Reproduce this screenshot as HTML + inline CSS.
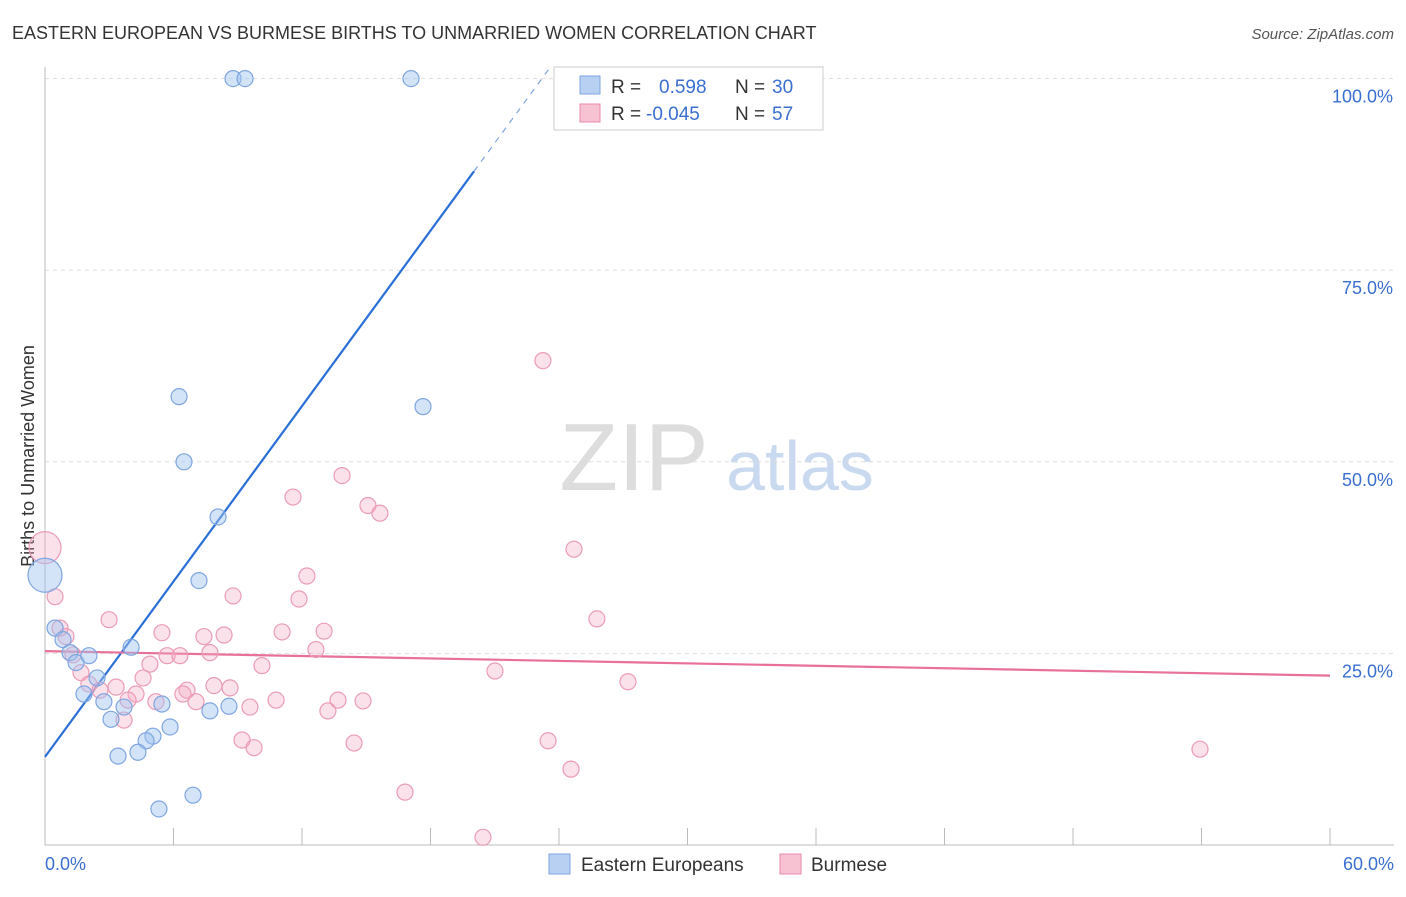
<!DOCTYPE html>
<html><head><meta charset="utf-8"><style>
body{margin:0;background:#fff;font-family:"Liberation Sans",sans-serif}
svg text{font-family:"Liberation Sans",sans-serif}
</style></head><body>
<svg id="chart" width="1406" height="892" xmlns="http://www.w3.org/2000/svg">
<text x="12" y="39" font-size="18" fill="#333">EASTERN EUROPEAN VS BURMESE BIRTHS TO UNMARRIED WOMEN CORRELATION CHART</text>
<text x="1394" y="39" font-size="15" fill="#555" font-style="italic" text-anchor="end">Source: ZipAtlas.com</text>
<text transform="translate(34,456) rotate(-90)" font-size="18" fill="#333" text-anchor="middle">Births to Unmarried Women</text>
<g><text x="634" y="490" font-size="96" fill="#ddd" font-family="Liberation Serif" text-anchor="middle">ZIP</text><text x="800" y="490" font-size="70" fill="#c9d9ef" text-anchor="middle">atlas</text></g>
<g id="grid"></g><g id="axes"></g><g id="trend"></g><g id="pts"></g>
<g>
<rect x="554" y="67" width="269" height="63" fill="#fff" stroke="#ccc"/>
<rect x="580" y="76" width="20" height="18" fill="#b8d0f2" stroke="#7fa6e0"/>
<rect x="580" y="104" width="20" height="18" fill="#f7c3d3" stroke="#e98aa8"/>
<text x="611" y="93" font-size="19" fill="#333">R = </text><text x="659" y="93" font-size="19" fill="#3a6fd0">0.598</text>
<text x="735" y="93" font-size="19" fill="#333">N = </text><text x="772" y="93" font-size="19" fill="#3a6fd0">30</text>
<text x="611" y="120" font-size="19" fill="#333">R = </text><text x="646" y="120" font-size="19" fill="#3a6fd0">-0.045</text>
<text x="735" y="120" font-size="19" fill="#333">N = </text><text x="772" y="120" font-size="19" fill="#3a6fd0">57</text>
</g>
<g>
<rect x="549" y="854" width="21" height="20" fill="#b8d0f2" stroke="#7fa6e0"/>
<text x="581" y="871" font-size="19" fill="#333">Eastern Europeans</text>
<rect x="780" y="854" width="21" height="20" fill="#f7c3d3" stroke="#e98aa8"/>
<text x="811" y="871" font-size="19" fill="#333">Burmese</text>
</g>
</svg>
<script>
const xTicks=[0,60];
const yTicks=[25,50,75,100];
const blueX=[8.78,9.34,17.09,6.26,17.65,6.49,8.08,7.19,0,0.47,0.84,1.17,1.45,2.05,2.43,1.82,2.75,3.69,3.08,4.02,5.46,7.70,8.59,5.84,5.04,4.72,4.34,3.41,5.32,6.91];
const blueY=[100,100,100,58.5,57.2,50.0,42.8,34.5,35.2,28.3,26.8,25.1,23.8,24.7,21.8,19.7,18.7,18.0,16.4,25.8,18.4,17.5,18.1,15.4,14.2,13.6,12.1,11.6,4.7,6.5];
const pinkX=[23.25,13.87,11.58,15.08,15.64,24.70,0,0.47,12.23,8.78,11.86,2.99,25.77,0.70,0.98,5.46,7.42,8.36,11.07,13.03,12.65,5.70,6.30,7.70,1.31,4.90,10.13,4.58,21.01,27.22,1.68,2.05,2.57,3.32,7.89,8.64,6.63,4.25,6.44,5.18,7.05,10.79,13.68,14.85,3.88,9.57,13.21,3.69,9.20,9.76,14.43,23.49,53.93,24.56,16.81,20.45];
const pinkY=[63.2,48.2,45.4,44.3,43.3,38.6,38.8,32.4,35.1,32.5,32.1,29.4,29.5,28.3,27.2,27.7,27.2,27.4,27.8,27.9,25.5,24.7,24.7,25.1,24.8,23.6,23.4,21.8,22.7,21.3,22.5,21.0,20.2,20.6,20.8,20.5,20.2,19.7,19.7,18.7,18.7,18.9,18.9,18.8,18.9,18.0,17.5,16.3,13.7,12.7,13.3,13.6,12.5,9.9,6.9,1.0];
const blueTrend=[11.5,87.9];
const blueTrendX=[0,20.03,23.5];
const pinkTrend=[25.3,22.1];
const X=v=>45+v/60*1285, Y=v=>845-v/100*766.4;
const NS="http://www.w3.org/2000/svg";
function mk(p,t,a){const e=document.createElementNS(NS,t);for(const k in a)e.setAttribute(k,a[k]);document.getElementById(p).appendChild(e);return e;}
yTicks.forEach(v=>{
 const l=mk('grid','line',{x1:45,x2:1394,y1:Y(v),y2:Y(v),stroke:'#ddd','stroke-dasharray':'4,4'});
 
 
 const t=mk('grid','text',{x:1393,y:Y(v)+24,'font-size':18,fill:'#3a6fd0','text-anchor':'end'});t.textContent=v.toFixed(1)+'%';
 
 
});
let a=mk('axes','line',{x1:45,x2:45,y1:67,y2:845,stroke:'#bbb'});


a=mk('axes','line',{x1:45,x2:1394,y1:845,y2:845,stroke:'#bbb'});


for(let i=0;i<=10;i++){const x=45+i*128.5;const tk=mk('axes','line',{x1:x,x2:x,y1:828,y2:845,stroke:'#bbb'});
 
 }
xTicks.forEach((v,i)=>{const t=mk('axes','text',{x:i?1394:45,y:870,'font-size':18,fill:'#3a6fd0','text-anchor':i?'end':'start'});t.textContent=v.toFixed(1)+'%';
 
 });
let tl=mk('trend','line',{x1:X(blueTrendX[0]),y1:Y(blueTrend[0]),x2:X(blueTrendX[1]),y2:Y(blueTrend[1]),stroke:'#2a6fd6','stroke-width':2.2});


const slope=(blueTrend[1]-blueTrend[0])/(blueTrendX[1]-blueTrendX[0]);
tl=mk('trend','line',{x1:X(blueTrendX[1]),y1:Y(blueTrend[1]),x2:X(blueTrendX[2]),y2:Y(blueTrend[0]+slope*blueTrendX[2]),stroke:'#7fa6e0','stroke-width':1.2,'stroke-dasharray':'6,6'});


tl=mk('trend','line',{x1:X(0),y1:Y(pinkTrend[0]),x2:X(60),y2:Y(pinkTrend[1]),stroke:'#e8709a','stroke-width':2.2});


pinkX.forEach((v,i)=>{const c=mk('pts','circle',{cx:X(v),cy:Y(pinkY[i]),r:(v===0&&i===6)?16:8,fill:'rgba(244,170,195,0.35)',stroke:'#eb9cb6','stroke-width':1.2});
 
 });
blueX.forEach((v,i)=>{const c=mk('pts','circle',{cx:X(v),cy:Y(blueY[i]),r:(v===0)?17:8,fill:'rgba(160,195,240,0.45)',stroke:'#7fa6e0','stroke-width':1.2});
 
 });
</script>
</body></html>
